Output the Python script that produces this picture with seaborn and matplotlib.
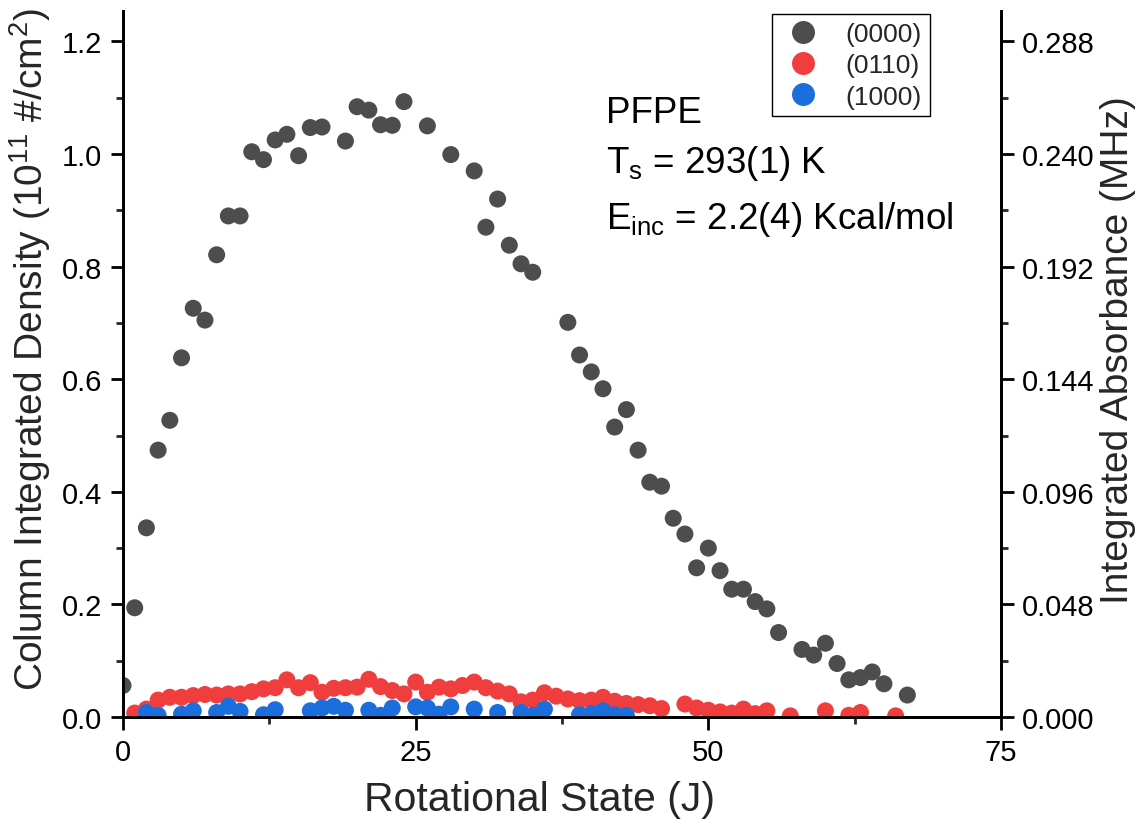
import numpy as np
import pandas as pd
import matplotlib
matplotlib.use("Agg")
import matplotlib.pyplot as plt
from matplotlib.ticker import MultipleLocator
import seaborn as sns

# ---- data ----
j_0000 = [0, 1, 2, 3, 4, 5, 6, 7, 8, 9, 10, 11, 12, 13, 14, 15, 16, 17, 19, 20,
          21, 22, 23, 24, 26, 28, 30, 31, 32, 33, 34, 35, 38, 39, 40, 41, 42, 43,
          44, 45, 46, 47, 48, 49, 50, 51, 52, 53, 54, 55, 56, 58, 59, 60, 61, 62,
          63, 64, 65, 67]
d_0000 = [0.056, 0.194, 0.336, 0.474, 0.527, 0.638, 0.726, 0.705, 0.821, 0.890,
          0.890, 1.004, 0.990, 1.025, 1.035, 0.997, 1.047, 1.048, 1.023, 1.084,
          1.078, 1.052, 1.051, 1.093, 1.050, 0.999, 0.970, 0.870, 0.920, 0.838,
          0.805, 0.790, 0.701, 0.643, 0.613, 0.583, 0.515, 0.546, 0.474, 0.417,
          0.410, 0.353, 0.325, 0.265, 0.300, 0.260, 0.227, 0.227, 0.205, 0.192,
          0.150, 0.120, 0.110, 0.131, 0.095, 0.066, 0.070, 0.080, 0.059, 0.039]

j_0110 = [1, 2, 3, 4, 5, 6, 7, 8, 9, 10, 11, 12, 13, 14, 15, 16, 17, 18, 19, 20,
          21, 22, 23, 24, 25, 26, 27, 28, 29, 30, 31, 32, 33, 34, 35, 36, 37, 38,
          39, 40, 41, 42, 43, 44, 45, 46, 48, 49, 50, 51, 52, 53, 54, 55, 57, 60,
          62, 63, 66]
d_0110 = [0.007, 0.014, 0.030, 0.035, 0.035, 0.038, 0.040, 0.039, 0.041, 0.041,
          0.045, 0.050, 0.052, 0.066, 0.052, 0.061, 0.044, 0.051, 0.052, 0.053,
          0.067, 0.054, 0.047, 0.041, 0.062, 0.044, 0.053, 0.050, 0.056, 0.062,
          0.052, 0.046, 0.041, 0.027, 0.030, 0.043, 0.037, 0.032, 0.029, 0.030,
          0.035, 0.028, 0.024, 0.022, 0.020, 0.015, 0.023, 0.016, 0.012, 0.009,
          0.007, 0.014, 0.006, 0.011, 0.002, 0.011, 0.003, 0.008, 0.002]

j_1000 = [2, 3, 5, 6, 8, 9, 10, 12, 13, 16, 17, 18, 19, 21, 22, 23, 25, 26, 27,
          28, 30, 32, 34, 35, 36, 39, 40, 41, 42, 43]
d_1000 = [0.008, 0.003, 0.005, 0.011, 0.008, 0.019, 0.010, 0.004, 0.013, 0.011,
          0.016, 0.019, 0.012, 0.012, 0.003, 0.016, 0.018, 0.016, 0.005, 0.018,
          0.014, 0.008, 0.008, 0.003, 0.014, 0.004, 0.006, 0.011, 0.004, 0.003]

series_labels = ["(0000)", "(0110)", "(1000)"]
x_ticks = [0, 25, 50, 75]
right_ticks = [0.000, 0.048, 0.096, 0.144, 0.192, 0.240, 0.288]
absorb_per_density = 0.24

# ---- build long-form frame ----
df = pd.concat([
    pd.DataFrame({"J": j_0000, "density": d_0000, "band": series_labels[0]}),
    pd.DataFrame({"J": j_0110, "density": d_0110, "band": series_labels[1]}),
    pd.DataFrame({"J": j_1000, "density": d_1000, "band": series_labels[2]}),
], ignore_index=True)

sns.set_theme(style="ticks")
plt.rcParams["font.family"] = ["Liberation Sans", "DejaVu Sans"]
plt.rcParams["mathtext.fontset"] = "custom"
plt.rcParams["mathtext.rm"] = "Liberation Sans"
plt.rcParams["mathtext.it"] = "Liberation Sans"

palette = {"(0000)": "#4d4d4d", "(0110)": "#f03e3e", "(1000)": "#1b6fdc"}

fig = plt.figure(figsize=(11.41, 8.29), dpi=100)
ax = fig.add_axes([0.1078, 0.1339, 0.7695, 0.8516])

sns.scatterplot(data=df, x="J", y="density", hue="band", palette=palette,
                s=150, edgecolor="none", linewidth=0, ax=ax, zorder=3)

ax.set_xlim(0, 75)
ax.set_ylim(0, 1.254)
ax.set_xticks(x_ticks)
ax.xaxis.set_minor_locator(MultipleLocator(12.5))
ax.yaxis.set_major_locator(MultipleLocator(0.2))
ax.yaxis.set_minor_locator(MultipleLocator(0.1))
ax.yaxis.set_major_formatter(matplotlib.ticker.FormatStrFormatter("%.1f"))

for s in ["left", "bottom", "right"]:
    ax.spines[s].set_linewidth(2.0)
    ax.spines[s].set_color("black")
ax.spines["top"].set_visible(False)

ax.tick_params(axis="both", which="major", direction="out", length=9, width=2,
               labelsize=21, colors="black", pad=6)
ax.tick_params(axis="both", which="minor", direction="out", length=5, width=2)

ax.set_xlabel("Rotational State (J)", fontsize=29.5, labelpad=10)
ax.xaxis.label.set_x(0.474)
ax.set_ylabel(r"Column Integrated Density (10$^{11}$ #/cm$^{2}$)", fontsize=28,
              labelpad=6)
ax.yaxis.label.set_y(0.522)

# right axis
ax2 = ax.twinx()
ax2.set_ylim(0, 1.254 * absorb_per_density)
ax2.set_yticks(right_ticks)
ax2.yaxis.set_minor_locator(MultipleLocator(0.024))
ax2.yaxis.set_major_formatter(matplotlib.ticker.FormatStrFormatter("%.3f"))
ax2.tick_params(axis="y", which="major", direction="out", length=9, width=2,
                labelsize=21, colors="black", pad=6)
ax2.tick_params(axis="y", which="minor", direction="out", length=5, width=2)
for s in ["left", "bottom", "right"]:
    ax2.spines[s].set_linewidth(2.0)
    ax2.spines[s].set_color("black")
ax2.spines["top"].set_visible(False)
ax2.set_ylabel("Integrated Absorbance (MHz)", fontsize=28, labelpad=4)
ax2.yaxis.label.set_y(0.521)

# legend
handles, labels = ax.get_legend_handles_labels()
ax.legend(handles=handles, labels=labels, loc="upper right",
          bbox_to_anchor=(0.919, 0.996), borderaxespad=0, frameon=True,
          fancybox=False, edgecolor="black", framealpha=1, fontsize=19,
          markerscale=1.35, handletextpad=0.7, borderpad=0.3, labelspacing=0.28,
          handlelength=1.8)
ax.get_legend().get_frame().set_linewidth(1.0)

# annotation
ax.text(41.3, 1.057, "PFPE", fontsize=26.5, color="black")
ax.text(41.3, 0.968, r"T$_{\mathrm{s}}$ = 293(1) K", fontsize=26.5, color="black")
ax.text(41.3, 0.868, r"E$_{\mathrm{inc}}$ = 2.2(4) Kcal/mol", fontsize=26.5,
        color="black")

fig.savefig("out.png", dpi=100, facecolor="white")
